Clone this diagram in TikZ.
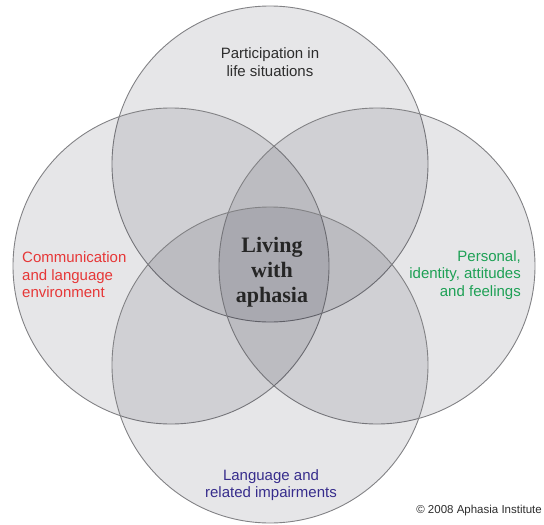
\documentclass[tikz,border=0pt]{standalone}
\usepackage{fontspec}
\setmainfont{Liberation Serif}
\setsansfont{Liberation Sans}
\usepackage{tikz}
\definecolor{ringline}{RGB}{130,130,133}
\definecolor{ringfill}{RGB}{10,10,30}
\definecolor{plaintext}{RGB}{45,45,45}
\definecolor{commred}{RGB}{230,55,55}
\definecolor{persgreen}{RGB}{30,160,85}
\definecolor{langblue}{RGB}{55,45,140}
\newcommand{\ringsize}{316pt}
\tikzstyle{ring}=[circle, draw=ringline, line width=0.9pt, fill=ringfill, fill opacity=0.1, inner sep=0, minimum size=\ringsize]
\tikzstyle{areatext}=[inner sep=0, align=center, font=\sffamily\fontsize{15}{17.5}\selectfont]
\tikzstyle{hubtext}=[inner sep=0, align=center, font=\bfseries\fontsize{22}{25}\selectfont, text=black!85]
\tikzstyle{venn}=[x=1pt, y=-1pt,
                  % keep the page the size of the reference
                  execute at begin picture={\useasboundingbox (0,0) rectangle (544,525);}]

\begin{document}
\begin{tikzpicture}[venn]
        \node[ring] (top)    at (270, 164) {};
        \node[ring] (left)   at (171, 266) {};
        \node[ring] (right)  at (377, 266) {};
        \node[ring] (bottom) at (270, 365) {};
        \node[hubtext] (hub) at (272, 272) {Living\\with\\aphasia};
        \node[areatext, text=plaintext] (participation) at (270, 62) {Participation in\\life situations};
        \node[areatext, text=commred, align=left, anchor=west] (communication) at (22, 275) {Communication\\and language\\environment};
        \node[areatext, text=persgreen, align=right, anchor=east] (personal) at (521, 275) {Personal,\\identity, attitudes\\and feelings};
        \node[areatext, text=langblue] (impairments) at (271, 485) {Language and\\related impairments};
        \node[inner sep=0, anchor=east, text=plaintext, font=\sffamily\fontsize{11.5}{13}\selectfont] (copyright) at (542, 511) {\textcopyright{} 2008 Aphasia Institute};
    \end{tikzpicture}
\end{document}
